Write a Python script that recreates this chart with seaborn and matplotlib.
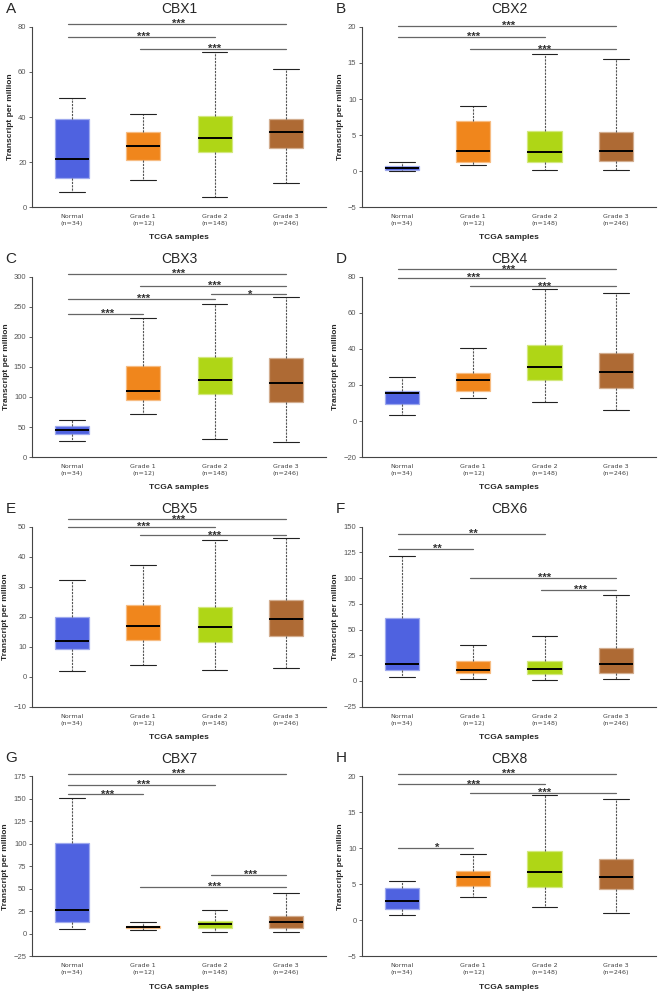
import matplotlib
matplotlib.use("Agg")
import matplotlib.pyplot as plt
import matplotlib.colors as mcolors
import numpy as np
import pandas as pd
import seaborn as sns

GROUPS = ["Normal", "Grade 1", "Grade 2", "Grade 3"]
SAMPLE_N = [34, 12, 148, 246]
GENES = ["CBX1", "CBX2", "CBX3", "CBX4", "CBX5", "CBX6", "CBX7", "CBX8"]
PANEL_LETTERS = ["A", "B", "C", "D", "E", "F", "G", "H"]

# five-number summaries per group: min, q1, median, q3, max (TPM)
CBX1 = [[6.8, 12.7, 21.5, 39.0, 48.6], [12.0, 20.9, 27.1, 33.3, 41.5],
        [4.3, 24.6, 30.5, 40.3, 68.7], [10.8, 26.4, 33.2, 39.1, 61.2]]
CBX2 = [[0.05, 0.19, 0.37, 0.65, 1.3], [0.79, 1.3, 2.73, 6.9, 9.0],
        [0.14, 1.2, 2.6, 5.5, 16.3], [0.14, 1.34, 2.73, 5.37, 15.5]]
CBX3 = [[26.7, 39.0, 45.1, 51.8, 62.3], [71.2, 95.2, 110.7, 151.9, 231.5],
        [30.6, 104.6, 128.5, 166.9, 254.9], [24.5, 92.4, 123.5, 165.3, 266.6]]
CBX4 = [[3.5, 9.5, 15.8, 16.9, 24.2], [12.5, 16.4, 22.9, 26.4, 40.8],
        [10.6, 22.5, 30.0, 42.1, 73.1], [6.1, 18.4, 27.4, 37.8, 71.2]]
CBX5 = [[2.0, 9.2, 12.0, 19.9, 32.2], [3.9, 12.1, 17.0, 23.9, 37.2],
        [2.2, 11.7, 16.7, 23.3, 45.4], [2.8, 13.4, 19.2, 25.6, 46.2]]
CBX6 = [[3.6, 10.7, 16.3, 61.2, 121.7], [2.3, 7.5, 11.1, 19.8, 34.5],
        [1.3, 6.5, 11.7, 19.2, 44.2], [2.0, 8.1, 16.3, 31.6, 83.9]]
CBX7 = [[5.5, 13.3, 26.9, 100.7, 151.3], [4.8, 7.0, 7.7, 8.9, 13.7],
        [1.8, 6.6, 11.1, 14.0, 26.2], [2.6, 7.0, 13.3, 20.3, 45.0]]
CBX8 = [[0.73, 1.56, 2.67, 4.52, 5.5], [3.32, 4.75, 6.04, 6.87, 9.2],
        [1.93, 4.66, 6.78, 9.7, 17.4], [1.0, 4.38, 6.0, 8.54, 16.8]]

# significance brackets: (group from, group to, label, height)
CBX1_SIG = [(0, 3, "***", 81.2), (0, 2, "***", 75.7), (1, 3, "***", 70.4)]
CBX2_SIG = [(0, 3, "***", 20.1), (0, 2, "***", 18.6), (1, 3, "***", 16.9)]
CBX3_SIG = [(0, 3, "***", 305.5), (1, 3, "***", 284.9), (2, 3, "*", 271.0),
            (0, 2, "***", 263.2), (0, 1, "***", 238.7)]
CBX4_SIG = [(0, 3, "***", 84.2), (0, 2, "***", 79.4), (1, 3, "***", 74.8)]
CBX5_SIG = [(0, 3, "***", 52.4), (0, 2, "***", 49.9), (1, 3, "***", 47.1)]
CBX6_SIG = [(0, 2, "**", 143.1), (0, 1, "**", 128.5), (1, 3, "***", 99.9),
            (2, 3, "***", 88.8)]
CBX7_SIG = [(0, 3, "***", 177.5), (0, 2, "***", 165.7), (0, 1, "***", 155.0),
            (2, 3, "***", 65.3), (1, 3, "***", 52.0)]
CBX8_SIG = [(0, 3, "***", 20.3), (0, 2, "***", 18.9), (1, 3, "***", 17.7),
            (0, 1, "*", 10.1)]

# y tick range per panel: (start, stop, step)
CBX_YTICKS = [(0, 80, 20), (-5, 20, 5), (0, 300, 50), (-20, 80, 20),
              (-10, 50, 10), (-25, 150, 25), (-25, 175, 25), (-5, 20, 5)]

STATS = [CBX1, CBX2, CBX3, CBX4, CBX5, CBX6, CBX7, CBX8]
SIGS = [CBX1_SIG, CBX2_SIG, CBX3_SIG, CBX4_SIG, CBX5_SIG, CBX6_SIG, CBX7_SIG, CBX8_SIG]

PALETTE = ["#4f62e0", "#f0861c", "#afd616", "#ae6a34"]
BOX_WIDTH = 0.48
CAP_WIDTH = 0.36

sns.set_theme(style="ticks")
plt.rcParams["font.family"] = ["Liberation Sans", "DejaVu Sans"]


def lighten(color, amount=0.45):
    rgb = np.array(mcolors.to_rgb(color))
    return tuple(rgb + (1 - rgb) * amount)


def draw_panel(ax, gene, letter, stats, sig, yticks):
    # five-number values per group -> np.percentile gives back exactly q1/median/q3
    df = pd.DataFrame({
        "group": np.repeat(GROUPS, 5),
        "tpm": np.concatenate(stats),
    })
    sns.boxplot(
        data=df, x="group", y="tpm", hue="group", order=GROUPS, hue_order=GROUPS,
        palette=PALETTE, saturation=1, legend=False, width=BOX_WIDTH,
        whis=(0, 100), showfliers=False,
        linecolor="#222222", linewidth=0.8, ax=ax,
        whiskerprops=dict(linestyle=(0, (2, 1)), color="#555555", linewidth=0.8),
        capprops=dict(color="#222222", linewidth=0.8),
        medianprops=dict(color="black", linewidth=1.4),
    )
    for patch, c in zip(ax.patches, PALETTE):
        patch.set_edgecolor(lighten(c))
        patch.set_linewidth(0.9)
    # widen the whisker caps
    for line in ax.lines:
        xs, ys = np.asarray(line.get_xdata(), float), np.asarray(line.get_ydata(), float)
        if (len(xs) == 2 and ys[0] == ys[1] and line.get_linestyle() == "-"
                and line.get_linewidth() < 1.0):
            mid = xs.mean()
            line.set_xdata([mid - CAP_WIDTH / 2, mid + CAP_WIDTH / 2])

    lo, hi, step = yticks
    ax.set_ylim(lo, hi)
    ax.set_yticks(np.arange(lo, hi + step / 2, step))
    ax.set_xlim(-0.56, 3.56)
    ax.tick_params(axis="y", labelsize=5.5, labelcolor="#555555", length=2.5,
                   width=0.6, color="#444444", pad=1.5)
    ax.tick_params(axis="x", length=0, pad=5)
    ax.set_xticks(range(len(GROUPS)))
    ax.set_xticklabels([f"{g}\n(n={n})" for g, n in zip(GROUPS, SAMPLE_N)],
                       fontsize=4.6, color="#444444", family="DejaVu Sans",
                       linespacing=1.5)
    sns.despine(ax=ax)
    for side in ["left", "bottom"]:
        ax.spines[side].set_color("#444444")
        ax.spines[side].set_linewidth(0.8)

    ax.set_xlabel("TCGA samples", fontsize=6, fontweight="bold", labelpad=6)
    ax.set_ylabel("Transcript per million", fontsize=6, fontweight="bold", labelpad=3)
    ax.set_title(gene, fontsize=10, pad=10)
    ax.text(-0.09, 1.1, letter, transform=ax.transAxes, fontsize=11,
            ha="left", va="center")

    for i, j, label, y in sig:
        ax.plot([i - 0.05, j], [y, y], color="#666666", lw=0.9, clip_on=False)
        ax.annotate(label, xy=((i + j) / 2, y), xytext=(0, -2.2),
                    textcoords="offset points", ha="center", va="baseline",
                    fontsize=8, fontweight="bold", color="#333333",
                    annotation_clip=False)


fig = plt.figure(figsize=(6.59, 9.92), dpi=100)
row_bottoms = [0.7913, 0.5393, 0.2876, 0.0358]
col_lefts = [0.0486, 0.5493]
for k, gene in enumerate(GENES):
    r, c = divmod(k, 2)
    ax = fig.add_axes([col_lefts[c], row_bottoms[r], 0.446, 0.1815])
    draw_panel(ax, gene, PANEL_LETTERS[k], STATS[k], SIGS[k], CBX_YTICKS[k])

fig.savefig("out.png", dpi=100)
